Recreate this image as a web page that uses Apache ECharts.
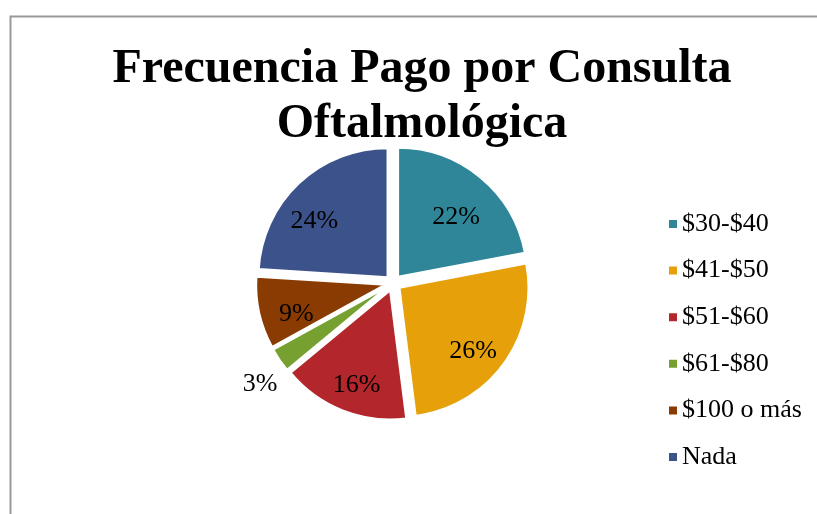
<!DOCTYPE html>
<html>
<head>
<meta charset="utf-8">
<script src="https://cdn.jsdelivr.net/npm/echarts@6/dist/echarts.min.js"></script>
<style>
  html, body { margin: 0; padding: 0; background: #fff; }
  #chart { width: 817px; height: 514px; }
</style>
</head>
<body>
<div id="chart"></div>
<script>
var categories = ["$30-$40", "$41-$50", "$51-$60", "$61-$80", "$100 o más", "Nada"];
var values = [22, 26, 16, 3, 9, 24];
var colors = ["#2F8699", "#E6A10A", "#B3272C", "#76A030", "#8A3B02", "#3C528A"];

var center = [393, 283];
var radius = 129;

var chart = echarts.init(document.getElementById("chart"));

var pieData = categories.map(function (name, i) {
  return {
    name: name,
    value: values[i],
    selected: true,
    itemStyle: { color: colors[i] }
  };
});

// transparent copy only used to place the labels further out than r/2
var labelOffsets = { 3: [-51, 36], 5: [-11, 0] };
var labelData = categories.map(function (name, i) {
  var d = { name: name, value: values[i] };
  if (labelOffsets[i]) d.label = { offset: labelOffsets[i] };
  return d;
});

var labelFont = {
  fontFamily: "Liberation Serif",
  fontSize: 26,
  color: "#000"
};

chart.setOption({
  animation: false,
  graphic: [{
    type: "rect",
    shape: { x: 10.5, y: 16.5, width: 900, height: 600 },
    style: { fill: "none", stroke: "#999", lineWidth: 2 },
    silent: true
  }],
  title: {
    text: "Frecuencia Pago por Consulta\nOftalmológica",
    left: 417,
    textAlign: "center",
    top: 37,
    textStyle: {
      fontFamily: "Liberation Serif",
      fontWeight: "bold",
      fontSize: 48,
      lineHeight: 55,
      color: "#000"
    }
  },
  legend: {
    orient: "vertical",
    left: 662,
    top: 206,
    itemWidth: 10,
    itemHeight: 10,
    itemGap: 20.6,
    icon: "rect",
    data: categories,
    textStyle: {
      fontFamily: "Liberation Serif",
      fontSize: 26,
      lineHeight: 26,
      color: "#000",
      padding: [0, 0, 0, -1]
    }
  },
  series: [{
    type: "pie",
    z: 2,
    center: center,
    radius: radius,
    startAngle: 90,
    clockwise: true,
    selectedMode: "multiple",
    selectedOffset: 8,
    silent: true,
    itemStyle: { borderColor: "#fff", borderWidth: 2 },
    label: { show: false },
    labelLine: { show: false },
    data: pieData
  }, {
    type: "pie",
    z: 10,
    center: [393, 293],
    radius: 192,
    startAngle: 90,
    clockwise: true,
    silent: true,
    itemStyle: { color: "rgba(0,0,0,0)", borderWidth: 0 },
    label: Object.assign({ show: true, position: "inside", formatter: "{d}%" }, labelFont),
    labelLine: { show: false },
    data: labelData
  }]
});
</script>
</body>
</html>
